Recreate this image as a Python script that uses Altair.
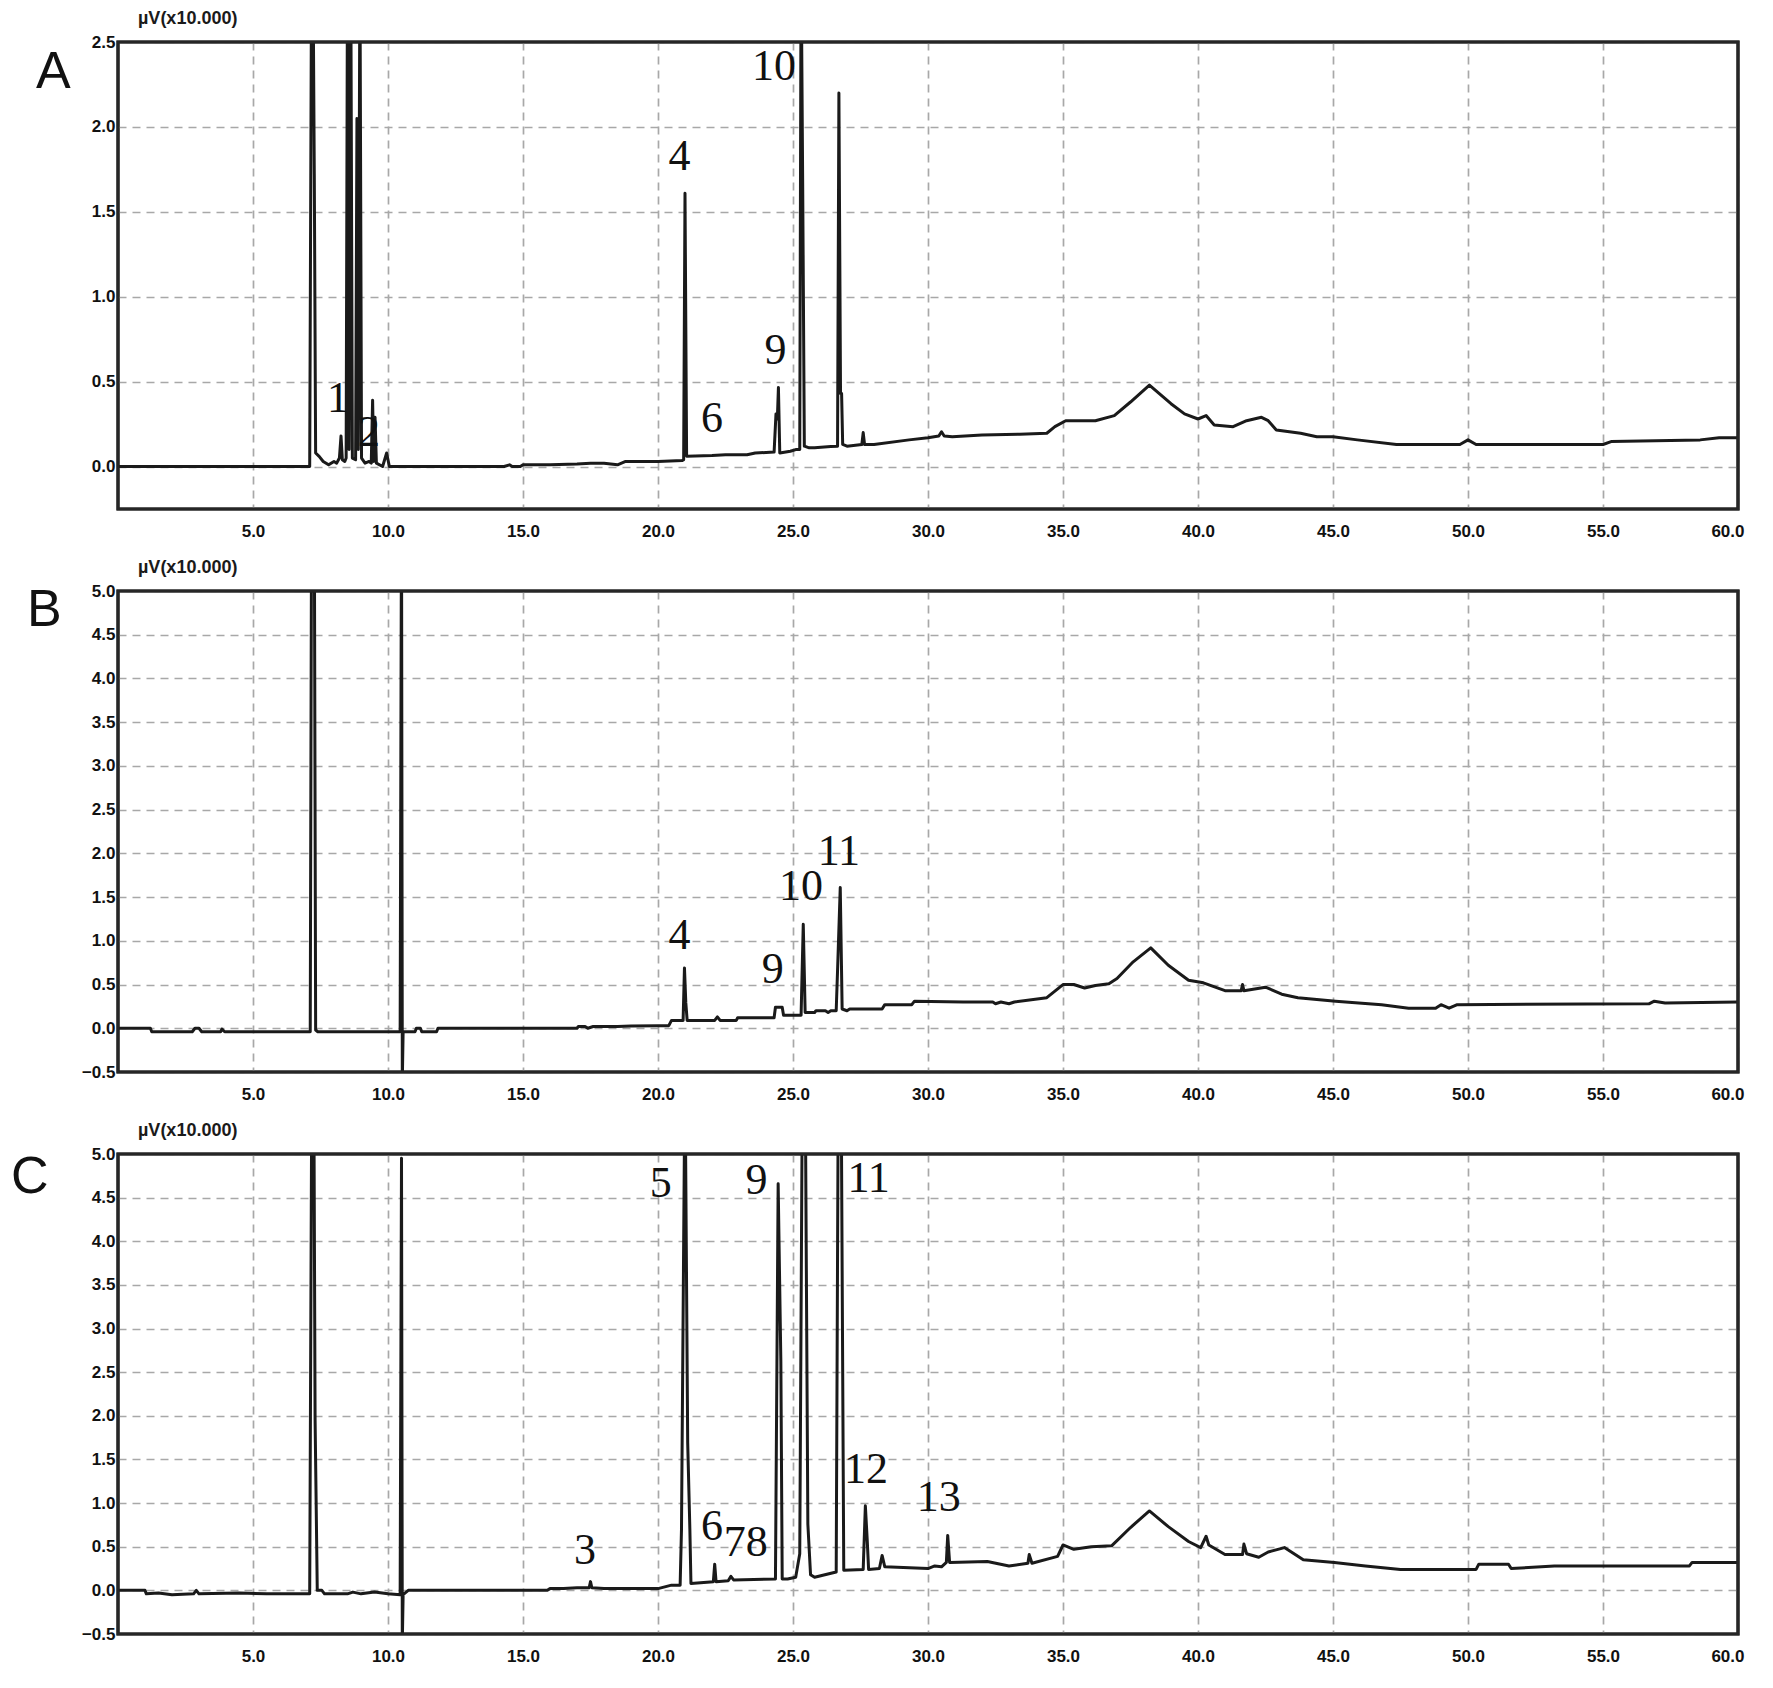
import altair as alt
import pandas as pd

INK = "#1a1a1a"
FRAME = "#262626"

# ---------------- axis ticks ----------------
x_ticks = [5.0, 10.0, 15.0, 20.0, 25.0, 30.0, 35.0, 40.0, 45.0, 50.0, 55.0, 60.0]
a_y_ticks = [0.0, 0.5, 1.0, 1.5, 2.0, 2.5]
bc_y_ticks = [-0.5, 0.0, 0.5, 1.0, 1.5, 2.0, 2.5, 3.0, 3.5, 4.0, 4.5, 5.0]

# ---------------- panel A trace (min, µV x10.000) ----------------
a_time = [0.0, 7.10, 7.17, 7.22, 7.27, 7.32, 7.45, 7.6, 7.8, 8.0, 8.1, 8.2, 8.26, 8.31, 8.4,
          8.45, 8.5, 8.56, 8.62, 8.68, 8.8, 8.85, 8.9, 8.96, 9.02, 9.15, 9.3, 9.38, 9.43, 9.47,
          9.52, 9.57, 9.8, 9.95, 10.05, 14.3, 14.5, 14.6, 14.9, 15.0, 16.0, 17.0, 17.5, 18.0,
          18.5, 18.8, 20.0, 20.9, 20.95, 21.0, 21.06, 22.0, 22.5, 23.3, 23.6, 24.3, 24.37, 24.42,
          24.46, 24.51, 24.9, 25.1, 25.25, 25.3, 25.36, 25.42, 25.6, 25.8, 26.4, 26.65, 26.7,
          26.76, 26.8, 26.84, 27.0, 27.55, 27.6, 27.65, 28.0, 29.3, 30.0, 30.4, 30.5, 30.6, 30.9,
          32.0, 33.4, 34.4, 34.7, 35.1, 36.2, 36.9, 37.5, 38.2, 39.0, 39.5, 40.0, 40.3, 40.6,
          41.3, 41.8, 42.35, 42.6, 42.9, 43.8, 44.4, 45.0, 45.9, 47.35, 49.7, 50.0, 50.3, 55.0,
          55.3, 58.6, 59.3, 60.0]
a_signal = [0.0, 0.0, 3.0, 3.0, 1.72, 0.08, 0.06, 0.03, 0.01, 0.03, 0.02, 0.05, 0.18, 0.04, 0.03,
            0.05, 3.0, 0.1, 3.0, 0.05, 0.04, 2.05, 0.1, 3.0, 0.05, 0.02, 0.03, 0.02, 0.39, 0.03,
            0.29, 0.02, 0.0, 0.08, 0.0, 0.0, 0.01, 0.0, 0.0, 0.01, 0.01, 0.015, 0.02, 0.02,
            0.01, 0.03, 0.03, 0.035, 0.04, 1.61, 0.06, 0.065, 0.07, 0.07, 0.08, 0.085, 0.31, 0.28,
            0.465, 0.08, 0.09, 0.10, 0.10, 3.0, 1.63, 0.12, 0.11, 0.11, 0.118, 0.12, 2.2,
            0.43, 0.43, 0.13, 0.12, 0.13, 0.2, 0.13, 0.13, 0.157, 0.17, 0.18, 0.205, 0.18, 0.176,
            0.186, 0.19, 0.196, 0.235, 0.27, 0.27, 0.30, 0.38, 0.48, 0.37, 0.31, 0.28, 0.30, 0.245,
            0.235, 0.27, 0.29, 0.27, 0.215, 0.196, 0.176, 0.176, 0.157, 0.13, 0.13, 0.157, 0.13, 0.13,
            0.147, 0.157, 0.17, 0.17]

# ---------------- panel B trace ----------------
b_time = [0.0, 1.2, 1.25, 2.75, 2.85, 3.0, 3.1, 3.8, 3.85, 3.95, 7.12, 7.17, 7.27, 7.32, 7.4,
          10.45, 10.5, 10.53, 10.56, 11.0, 11.05, 11.2, 11.25, 11.8, 11.85, 17.0, 17.05, 17.3,
          17.4, 17.6, 18.5, 19.0, 20.0, 20.4, 20.5, 20.93, 20.98, 21.03, 21.08, 22.1, 22.2, 22.3,
          22.9, 22.95, 24.3, 24.35, 24.6, 24.65, 25.3, 25.38, 25.45, 25.8, 25.85, 26.2, 26.3, 26.4,
          26.6, 26.65, 26.75, 26.82, 27.0, 27.1, 28.3, 28.4, 29.4, 29.5, 31.3, 32.4, 32.5, 32.7,
          33.0, 33.2, 34.4, 35.0, 35.4, 35.8, 36.2, 36.7, 37.0, 37.6, 38.25, 38.9, 39.65, 40.2,
          41.0, 41.6, 41.65, 41.7, 42.5, 43.1, 43.7, 45.1, 46.8, 47.8, 48.8, 49.0, 49.3, 49.6,
          56.7, 56.9, 57.3, 60.0]
b_signal = [0.0, 0.0, -0.04, -0.04, 0.0, 0.0, -0.04, -0.04, -0.01, -0.04, -0.04, 6.0, 6.0, -0.02, -0.04,
            -0.04, 6.0, -0.6, -0.04, -0.04, 0.0, 0.0, -0.04, -0.04, 0.0, 0.0, 0.02, 0.02,
            0.0, 0.02, 0.02, 0.025, 0.03, 0.03, 0.09, 0.09, 0.69, 0.29, 0.09, 0.09, 0.13, 0.09,
            0.09, 0.12, 0.12, 0.24, 0.24, 0.15, 0.15, 1.19, 0.18, 0.18, 0.2, 0.2, 0.18, 0.2,
            0.2, 0.66, 1.61, 0.22, 0.2, 0.22, 0.22, 0.27, 0.27, 0.31, 0.30, 0.30, 0.28, 0.30,
            0.28, 0.30, 0.35, 0.5, 0.5, 0.46, 0.49, 0.51, 0.57, 0.76, 0.92, 0.72, 0.55, 0.52,
            0.43, 0.43, 0.5, 0.43, 0.47, 0.39, 0.35, 0.31, 0.27, 0.23, 0.23, 0.27, 0.23, 0.27,
            0.28, 0.31, 0.29, 0.30]

# ---------------- panel C trace ----------------
c_time = [0.0, 1.0, 1.05, 1.5, 2.0, 2.8, 2.9, 3.0, 4.5, 5.5, 7.1, 7.18, 7.25, 7.3, 7.38, 7.55,
          7.65, 8.5, 8.7, 9.0, 9.5, 10.0, 10.45, 10.5, 10.53, 10.56, 10.75, 15.9, 16.0, 16.5,
          17.0, 17.45, 17.5, 17.55, 18.0, 20.0, 20.5, 20.82, 20.87, 21.0, 21.1, 21.18, 21.22,
          22.05, 22.1, 22.15, 22.6, 22.7, 22.8, 24.35, 24.45, 24.55, 24.6, 24.8, 25.1, 25.25,
          25.35, 25.45, 25.55, 25.65, 25.8, 26.6, 26.68, 26.78, 26.88, 27.6, 27.68, 27.75, 27.8,
          28.2, 28.3, 28.4, 30.0, 30.25, 30.5, 30.68, 30.73, 30.8, 32.2, 33.0, 33.7, 33.75, 33.85,
          34.8, 35.0, 35.4, 36.05, 36.8, 37.5, 38.2, 38.9, 39.65, 40.1, 40.3, 40.4, 41.0, 41.65,
          41.7, 41.8, 42.25, 42.6, 43.2, 43.9, 45.05, 46.2, 47.5, 50.3, 50.4, 51.5, 51.6, 53.2,
          58.2, 58.3, 60.0]
c_signal = [0.0, 0.0, -0.04, -0.03, -0.05, -0.04, 0.0, -0.04, -0.03, -0.04, -0.04, 6.0, 6.0, 1.95, 0.0, 0.0,
            -0.04, -0.04, -0.02, -0.04, -0.02, -0.04, -0.05, 4.95, -0.6, -0.05, 0.0, 0.0, 0.02, 0.02,
            0.03, 0.03, 0.1, 0.03, 0.02, 0.02, 0.06, 0.06, 0.7, 6.0, 1.69, 0.7, 0.08,
            0.1, 0.3, 0.1, 0.11, 0.16, 0.12, 0.13, 4.66, 2.62, 0.13, 0.13, 0.15, 0.42,
            6.0, 6.0, 0.76, 0.18, 0.15, 0.21, 6.0, 6.0, 0.23, 0.24, 0.97, 0.57, 0.24,
            0.25, 0.4, 0.27, 0.25, 0.28, 0.27, 0.32, 0.63, 0.32, 0.33, 0.28, 0.31, 0.41, 0.31,
            0.39, 0.52, 0.47, 0.5, 0.51, 0.72, 0.91, 0.73, 0.56, 0.49, 0.62, 0.52, 0.41, 0.41,
            0.53, 0.42, 0.38, 0.44, 0.49, 0.35, 0.32, 0.28, 0.24, 0.24, 0.30, 0.30, 0.25, 0.28,
            0.28, 0.32, 0.32]

# ---------------- peak numbers ----------------
a_peak_text = ["1", "2", "4", "6", "9", "10"]
a_peak_time = [8.15, 9.3, 20.8, 22.0, 24.35, 24.3]
a_peak_signal = [0.40, 0.20, 1.82, 0.28, 0.68, 2.35]

b_peak_text = ["4", "9", "10", "11"]
b_peak_time = [20.8, 24.25, 25.3, 26.7]
b_peak_signal = [1.05, 0.67, 1.62, 2.02]

c_peak_text = ["3", "5", "6", "78", "9", "11", "12", "13"]
c_peak_time = [17.3, 20.1, 22.0, 23.25, 23.65, 27.8, 27.7, 30.4]
c_peak_signal = [0.45, 4.66, 0.73, 0.54, 4.69, 4.71, 1.38, 1.06]

unit_label = "µV(x10.000)"
PANEL_W = 1620


def panel(time, signal, ydomain, yticks, height, ptext, ptime, psignal,
          letter, letter_dx, letter_dy):
    df = pd.DataFrame({"t": time, "v": signal, "i": list(range(len(time)))})
    ldf = pd.DataFrame({"t": ptime, "v": psignal, "s": ptext})
    x = alt.X("t:Q", scale=alt.Scale(domain=[0, 60], nice=False, zero=False),
              axis=alt.Axis(values=x_ticks, format=".1f", title=None, labelPadding=14,
                            labelFlush=True, labelFlushOffset=6))
    y = alt.Y("v:Q", scale=alt.Scale(domain=ydomain, nice=False, zero=False),
              axis=alt.Axis(values=yticks, format=".1f", title=None, labelPadding=3))
    line = alt.Chart(df).mark_line(clip=True, color=INK, strokeWidth=3,
                                   strokeJoin="round").encode(x=x, y=y, order="i:Q")
    nums = alt.Chart(ldf).mark_text(font="Liberation Serif", fontSize=44, color="#111111",
                                    baseline="middle", align="center").encode(x=x, y=y, text="s:N")
    frame = alt.Chart(pd.DataFrame({"k": [0]})).mark_rect(
        fillOpacity=0, stroke=FRAME, strokeWidth=3.2).encode(
        x=alt.value(0), x2=alt.value(PANEL_W), y=alt.value(0), y2=alt.value(height))
    unit = alt.Chart(pd.DataFrame({"s": [unit_label]})).mark_text(
        align="left", baseline="middle", font="Liberation Sans", fontWeight="bold",
        fontSize=18, color=INK).encode(x=alt.value(20), y=alt.value(-23), text="s:N")
    let = alt.Chart(pd.DataFrame({"s": [letter]})).mark_text(
        align="left", baseline="middle", font="Liberation Sans", fontSize=52,
        color="#111111").encode(x=alt.value(letter_dx), y=alt.value(letter_dy), text="s:N")
    return alt.layer(line, nums, frame, unit, let).properties(width=PANEL_W, height=height)


pa = panel(a_time, a_signal, [-0.25, 2.5], a_y_ticks, 467, a_peak_text, a_peak_time,
           a_peak_signal, "A", -82, 30)
pb = panel(b_time, b_signal, [-0.5, 5.0], bc_y_ticks, 481, b_peak_text, b_peak_time,
           b_peak_signal, "B", -91, 19)
pc = panel(c_time, c_signal, [-0.5, 5.0], bc_y_ticks, 480, c_peak_text, c_peak_time,
           c_peak_signal, "C", -107, 23)

chart = alt.vconcat(pa, pb, pc, spacing=82, bounds="flush").properties(
    padding={"left": 1, "top": 0, "right": 4, "bottom": 4}
).configure(
    background="white"
).configure_view(
    stroke=FRAME, strokeWidth=3
).configure_axis(
    grid=True, gridDash=[8, 6], gridColor="#a8a8a8", gridWidth=1.7,
    ticks=False, domain=False, labelFont="Liberation Sans", labelFontWeight="bold",
    labelFontSize=17, labelColor="#111111"
)

chart.save("out.html", embed_options={"renderer": "svg", "actions": False})
